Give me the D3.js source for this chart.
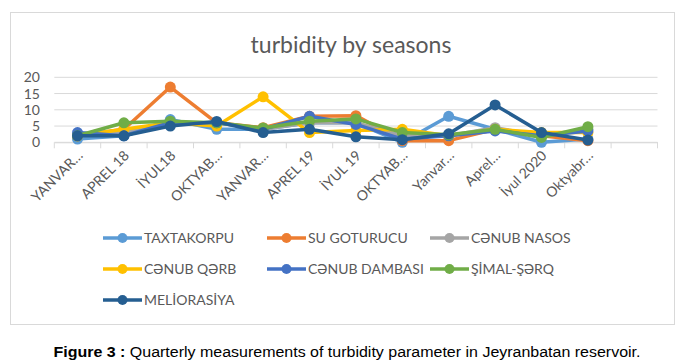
<!DOCTYPE html>
<html><head><meta charset="utf-8">
<script src="https://cdn.jsdelivr.net/npm/d3@7"></script>
<style>
body{margin:0;background:#fff;}
svg{display:block;}
</style></head>
<body>
<svg id="c" width="684" height="364"></svg>
<script>
const categories = ["YANVAR…","APREL 18","İYUL18","OKTYAB…","YANVAR…","APREL 19","İYUL 19","OKTYAB…","Yanvar…","Aprel…","İyul 2020","Oktyabr…",""];
const seriesNames = ["TAXTAKORPU","SU GOTURUCU","CƏNUB NASOS","CƏNUB QƏRB","CƏNUB DAMBASI","ŞİMAL-ŞƏRQ","MELİORASİYA"];
const taxtakorpu   = [1, 2, 7, 4, 4, 6, 6, 0, 8, 4, 0, 1];
const suGoturucu   = [2, 4, 17, 6, 4.5, 8, 8.2, 0.5, 0.5, 4, 2, 0.5];
const cenubNasos   = [2, 3, 6, 6, 4, 6, 6, 2, 2, 4.5, 2, 4];
const cenubQerb    = [2, 4, 6, 5, 14, 3, 3.6, 4, 2, 4, 3, 3];
const cenubDambasi = [3, 2, 6, 6, 4, 8, 5.5, 1, 2, 3.5, 2, 3.5];
const simalSerq    = [2, 6, 6.5, 6, 4.4, 6.5, 7.2, 3, 2.3, 4, 1.5, 4.8];
const meliorasiya  = [2, 2, 5, 6.4, 3, 4, 1.7, 0.8, 2.6, 11.5, 3, 0.7];
const yTicks = [0, 5, 10, 15, 20];
const colors = ["#5B9BD5","#ED7D31","#A5A5A5","#FFC000","#4472C4","#70AD47","#255E91"];
const allSeries = [taxtakorpu, suGoturucu, cenubNasos, cenubQerb, cenubDambasi, simalSerq, meliorasiya];

const svg = d3.select("#c");
const txt = "#595959";
const font = "Lato, 'Open Sans', sans-serif";

// chart border
svg.append("rect").attr("x",10.5).attr("y",12.5).attr("width",664).attr("height",312)
  .attr("fill","#fff").attr("stroke","#d9d9d9");

svg.append("text").attr("x",351).attr("y",53).attr("text-anchor","middle")
  .attr("font-family",font).attr("font-size",23).attr("fill",txt).text("turbidity by seasons");

const x = d3.scaleBand().domain(d3.range(categories.length)).range([54.3, 657.5]);
const y = d3.scaleLinear().domain([0,20]).range([142.3, 77.3]);

// gridlines
svg.append("g").selectAll("line").data(yTicks).join("line")
  .attr("x1",54.3).attr("x2",657.5).attr("y1",d=>y(d)).attr("y2",d=>y(d))
  .attr("stroke","#d9d9d9").attr("stroke-width",1);

// y axis labels
const ya = svg.append("g").attr("transform","translate(40,0)")
  .call(d3.axisLeft(y).tickValues(yTicks).tickSize(0).tickPadding(0));
ya.select(".domain").remove();
ya.selectAll("text").attr("font-family",font).attr("font-size",14).attr("fill",txt);

// x axis
const xa = svg.append("g").attr("transform",`translate(0,${y(0)})`)
  .call(d3.axisBottom(x).tickSize(0).tickFormat(i=>categories[i]));
xa.select(".domain").attr("stroke","#d9d9d9");
xa.selectAll(".tick line").remove();
// tick marks at band boundaries
svg.append("g").selectAll("line").data(d3.range(categories.length+1)).join("line")
  .attr("x1",i=> i<categories.length ? x(i) : x(categories.length-1)+x.bandwidth())
  .attr("x2",i=> i<categories.length ? x(i) : x(categories.length-1)+x.bandwidth())
  .attr("y1",y(0)).attr("y2",y(0)+6).attr("stroke","#d9d9d9");
xa.selectAll("text").attr("font-family",font).attr("font-size",14).attr("fill",txt)
  .attr("text-anchor","end").attr("dy",null)
  .attr("transform","translate(4,12) rotate(-45)");

// lines
const line = d3.line().x((d,i)=>x(i)+x.bandwidth()/2).y(d=>y(d));
const g = svg.append("g");
allSeries.forEach((s,k)=>{
  g.append("path").datum(s).attr("d",line).attr("fill","none")
    .attr("stroke",colors[k]).attr("stroke-width",3.5).attr("stroke-linejoin","round");
  g.append("g").selectAll("circle").data(s).join("circle")
    .attr("cx",(d,i)=>x(i)+x.bandwidth()/2).attr("cy",d=>y(d)).attr("r",5.5)
    .attr("fill",colors[k]);
});

// legend
const legX = [103, 267, 430];
const legY = [238, 269, 300];
seriesNames.forEach((n,k)=>{
  const lx = legX[k%3], ly = legY[Math.floor(k/3)];
  const lg = svg.append("g");
  lg.append("line").attr("x1",lx).attr("x2",lx+39).attr("y1",ly).attr("y2",ly)
    .attr("stroke",colors[k]).attr("stroke-width",3.5);
  lg.append("circle").attr("cx",lx+19.5).attr("cy",ly).attr("r",5).attr("fill",colors[k]);
  lg.append("text").attr("x",lx+41).attr("y",ly+5).attr("font-family",font)
    .attr("font-size",14).attr("fill",txt).text(n);
});

// caption
const cap = svg.append("text").attr("x",347).attr("y",357).attr("text-anchor","middle")
  .attr("font-family","'Liberation Sans', Arial, sans-serif").attr("font-size",15.5).attr("fill","#000")
  .attr("textLength",587).attr("lengthAdjust","spacingAndGlyphs");
cap.append("tspan").attr("font-weight","bold").text("Figure 3 :");
cap.append("tspan").text(" Quarterly measurements of turbidity parameter in Jeyranbatan reservoir.");
</script>
</body></html>
